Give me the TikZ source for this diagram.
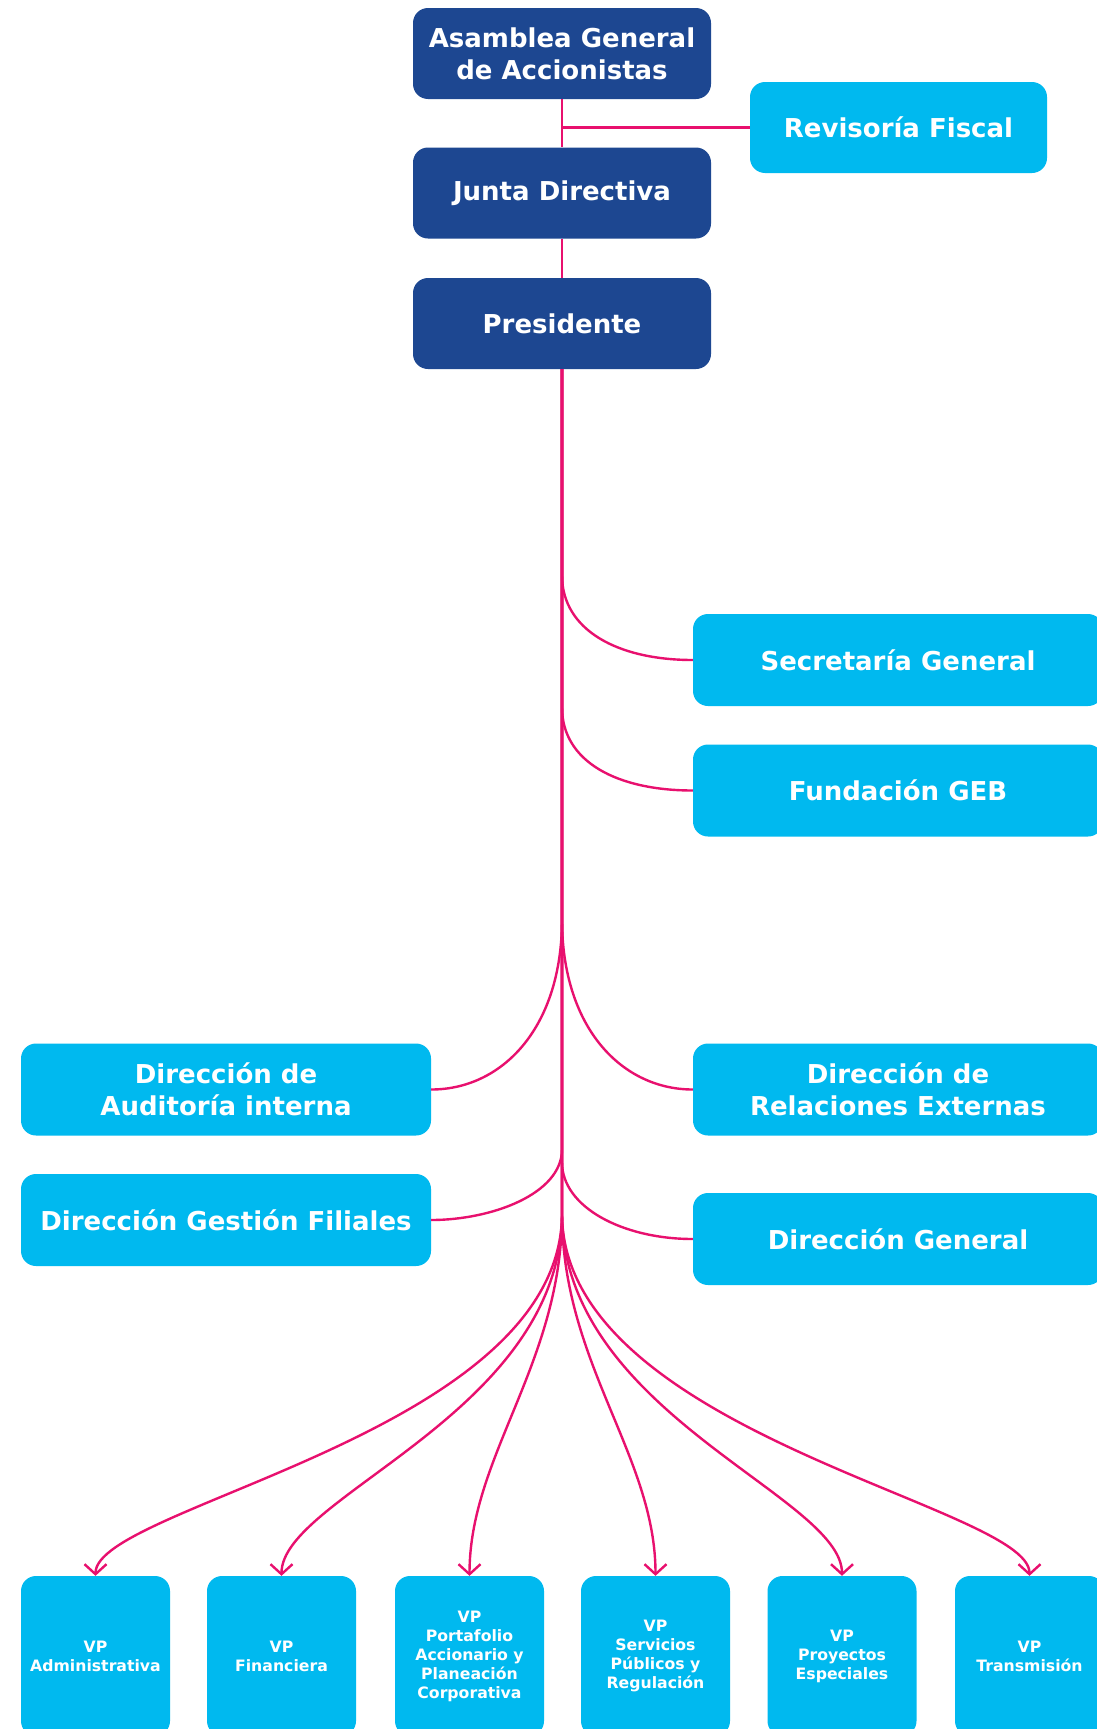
\documentclass[tikz,border=0pt]{standalone}
\usepackage{fontspec}
\setmainfont{DejaVu Sans}
\usetikzlibrary{arrows.meta}
\definecolor{darkbox}{RGB}{29,71,145}
\definecolor{lightbox}{RGB}{0,185,239}
\definecolor{linkcol}{RGB}{232,16,110}
\tikzset{
  box/.style={rounded corners=15pt, inner sep=0pt, align=center, text=white,
    font=\bfseries\fontsize{26}{32}\selectfont},
  topbox/.style={box, fill=darkbox, minimum width=298pt, minimum height=91pt},
  sidebox/.style={box, fill=lightbox, minimum width=410pt, minimum height=92pt},
  vpbox/.style={box, fill=lightbox, minimum width=149pt, minimum height=160pt,
    font=\bfseries\fontsize{15.7}{19}\selectfont},
  link/.style={draw=linkcol, line width=2.4pt},
  arr/.style={link, -{Straight Barb[length=10pt,width=22pt,line width=2.4pt]}}
}
\begin{document}
\begin{tikzpicture}[x=1pt,y=-1pt]
\fill[white] (0,0) rectangle (1096,1729);
\useasboundingbox (0,0) rectangle (1096,1729);

% nodes
\node[topbox] (asam) at (562,53.5) {Asamblea General\\de Accionistas};
\node[box, fill=lightbox, minimum width=297pt, minimum height=91pt] (rev) at (898.5,127.5) {Revisoría Fiscal};
\node[topbox] (junta) at (562,193) {Junta Directiva};
\node[topbox] (pres) at (562,323.5) {Presidente};

\node[sidebox] (sec) at (898,660) {Secretaría General};
\node[sidebox] (fund) at (898,790.5) {Fundación GEB};
\node[sidebox] (aud) at (226,1089.5) {Dirección de\\Auditoría interna};
\node[sidebox] (rel) at (898,1089.5) {Dirección de\\Relaciones Externas};
\node[sidebox] (fil) at (226,1220) {Dirección Gestión Filiales};
\node[sidebox] (gen) at (898,1239) {Dirección General};

\node[vpbox] (vp1) at (95.5,1656) {VP\\Administrativa};
\node[vpbox] (vp2) at (281.5,1656) {VP\\Financiera};
\node[vpbox] (vp3) at (469.5,1656) {VP\\Portafolio\\Accionario y\\Planeación\\Corporativa};
\node[vpbox] (vp4) at (655.5,1656) {VP\\Servicios\\Públicos y\\Regulación};
\node[vpbox] (vp5) at (842,1656) {VP\\Proyectos\\Especiales};
\node[vpbox] (vp6) at (1029.5,1656) {VP\\Transmisión};

% connectors
\draw[link] (asam.south) -- (junta.north);
\draw[link] (asam.south |- rev.west) -- (rev.west);
\draw[link] (junta.south) -- (pres.north);

\draw[link] (pres.south) -- ++(0,206) .. controls +(0,55) and +(-75,0) .. (sec.west);
\draw[link] (pres.south) -- ++(0,338) .. controls +(0,55) and +(-75,0) .. (fund.west);
\draw[link] (pres.south) -- ++(0,550) .. controls +(0,110) and +(70,0) .. (aud.east);
\draw[link] (pres.south) -- ++(0,550) .. controls +(0,110) and +(-70,0) .. (rel.west);
\draw[link] (pres.south) -- ++(0,780) .. controls +(0,45) and +(60,0) .. (fil.east);
\draw[link] (pres.south) -- ++(0,793) .. controls +(0,45) and +(-70,0) .. (gen.west);

\draw[arr] (pres.south) -- ++(0,844) .. controls +(0,220) and +(0,-70) .. (vp1.north);
\draw[arr] (pres.south) -- ++(0,844) .. controls +(0,200) and +(0,-80) .. (vp2.north);
\draw[arr] (pres.south) -- ++(0,844) .. controls +(0,150) and +(0,-120) .. (vp3.north);
\draw[arr] (pres.south) -- ++(0,844) .. controls +(0,150) and +(0,-120) .. (vp4.north);
\draw[arr] (pres.south) -- ++(0,844) .. controls +(0,200) and +(0,-80) .. (vp5.north);
\draw[arr] (pres.south) -- ++(0,844) .. controls +(0,220) and +(0,-70) .. (vp6.north);
\end{tikzpicture}
\end{document}
